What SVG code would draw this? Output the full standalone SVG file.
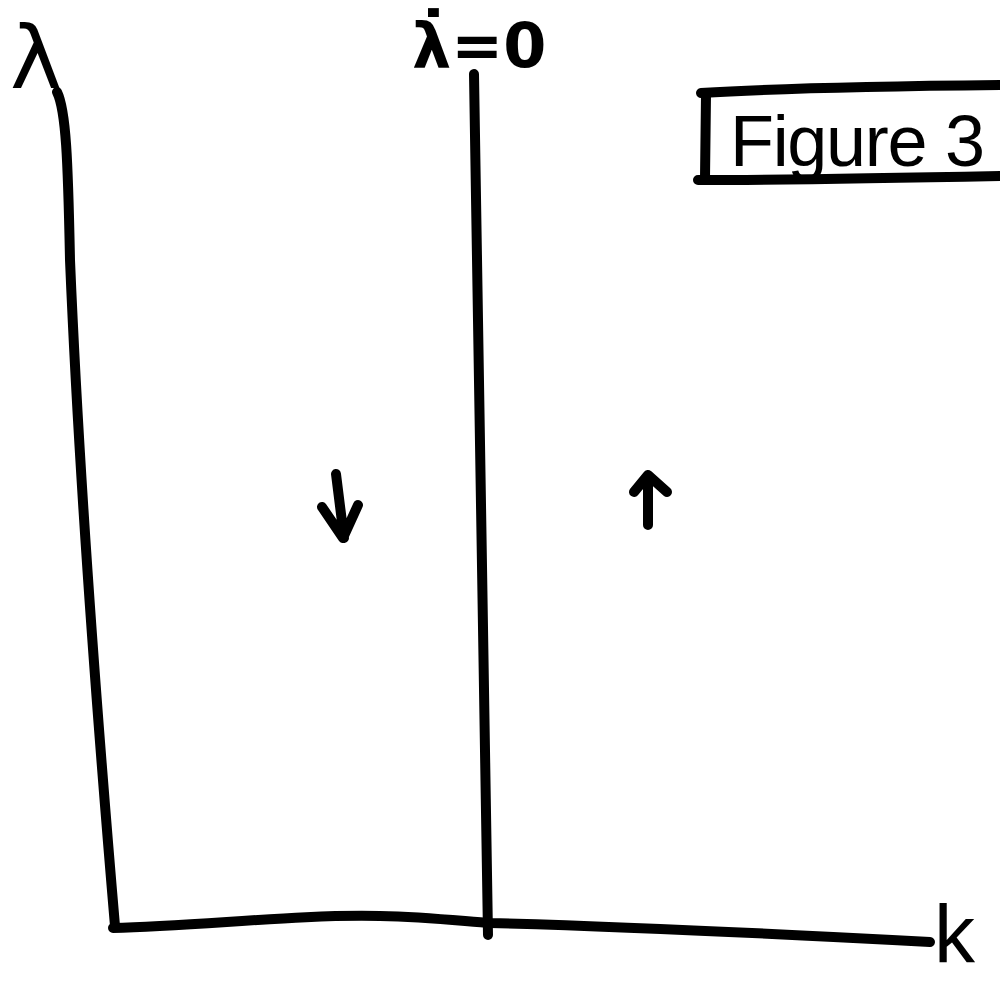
<svg xmlns="http://www.w3.org/2000/svg" width="1000" height="984" viewBox="0 0 1000 984">
<style>
.ln{fill:none;stroke:#000;stroke-width:10;stroke-linecap:round;stroke-linejoin:round}
.tx{font-family:"DejaVu Sans","Liberation Sans",sans-serif;fill:#000}
</style>
<rect width="1000" height="984" fill="#fff"/>
<g id="axes">
<path class="ln" d="M57,92 C66,110 68,160 70,260 C80,500 100,750 115,926"/>
<path class="ln" d="M113,928 C200,926 300,914 380,916 C430,917 470,922 490,923 C600,926 800,935 930,942"/>
</g>
<g id="nullcline">
<path class="ln" d="M474,74 C477,300 484,600 488,935"/>
<text class="tx" x="412" y="67" font-size="62" font-weight="bold">λ̇=0</text>
</g>
<g id="labels">
<text class="tx" x="10" y="88" font-size="88">λ</text>
<text x="934" y="962" font-size="82" font-family="Liberation Sans, sans-serif" fill="#000">k</text>
</g>
<g id="figure-label">
<path class="ln" d="M701,93 C780,88 900,86 1000,85"/>
<path class="ln" d="M706,95 L705,178"/>
<path class="ln" d="M698,180 C780,180 900,178 1000,176"/>
<text x="730" y="166" font-size="72" font-family="Liberation Sans, sans-serif" fill="#000" textLength="255">Figure 3</text>
</g>
<g id="arrows">
<path class="ln" d="M336,474 L344,538 M322,507 L343,538 L358,505"/>
<path class="ln" d="M648,525 L648,478 M634,492 L648,475 L667,492"/>
</g>
</svg>
